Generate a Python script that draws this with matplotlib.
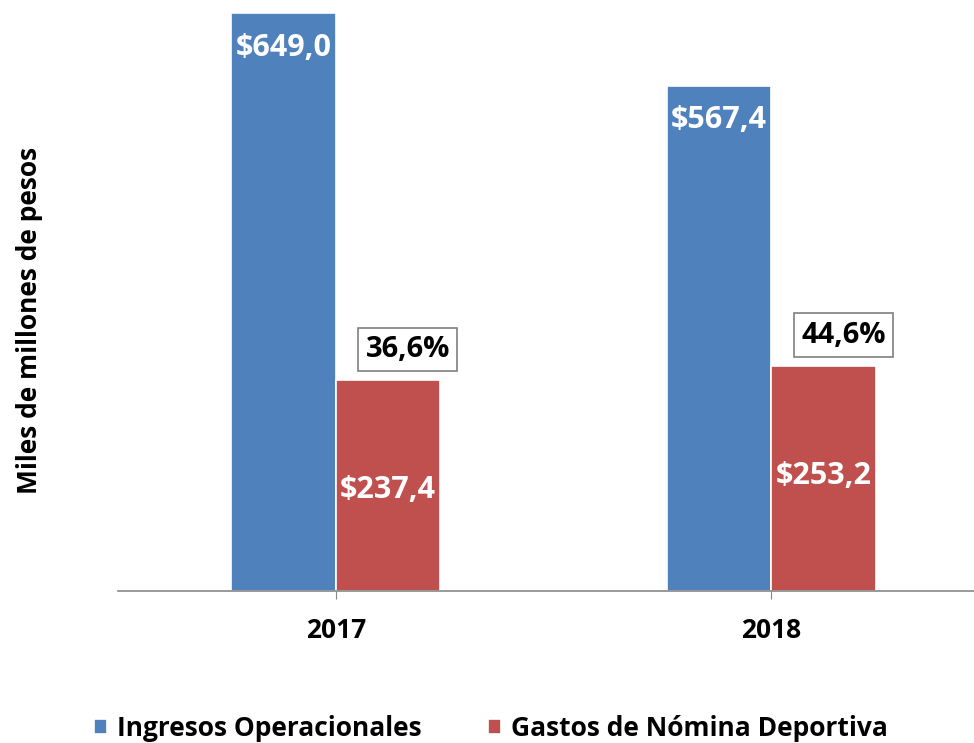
import matplotlib.pyplot as plt
import numpy as np

years = ["2017", "2018"]
ingresos = [649.0, 567.4]
gastos = [237.4, 253.2]
porcentajes = ["36,6%", "44,6%"]
series_names = ["Ingresos Operacionales", "Gastos de Nómina Deportiva"]

plt.rcParams["font.family"] = ["Open Sans", "DejaVu Sans"]
plt.rcParams["font.weight"] = "bold"

blue = "#4F81BD"
red = "#C0504D"

fig = plt.figure(figsize=(9.74, 7.43), dpi=100)
ax = fig.add_axes([118 / 974, 152 / 743, 856 / 974, 591 / 743])

x = np.arange(len(years))
w = 0.24
off = 0.12

b1 = ax.bar(x - off, ingresos, w, color=blue, edgecolor="white", linewidth=1.2,
            label=series_names[0])
b2 = ax.bar(x + off, gastos, w, color=red, edgecolor="white", linewidth=1.2,
            label=series_names[1])

for rect, v in zip(b1, ingresos):
    ax.text(rect.get_x() + rect.get_width() / 2, v - 39, "$" + f"{v:.1f}".replace(".", ","),
            ha="center", va="center", color="white", fontsize=22, fontweight="bold")
for rect, v in zip(b2, gastos):
    ax.text(rect.get_x() + rect.get_width() / 2, v - 124, "$" + f"{v:.1f}".replace(".", ","),
            ha="center", va="center", color="white", fontsize=22, fontweight="bold")

for rect, v, p in zip(b2, gastos, porcentajes):
    ax.text(rect.get_x() + rect.get_width() / 2 + 0.045, v + 34, p,
            ha="center", va="center", color="black", fontsize=21, fontweight="bold",
            bbox=dict(boxstyle="square,pad=0.25", facecolor="white", edgecolor="#7f7f7f",
                      linewidth=1.2))

ax.set_xlim(-0.5, 1.465)
ax.set_ylim(0, 663.6)
ax.set_xticks(x)
ax.set_xticklabels(years, fontsize=19, fontweight="bold")
ax.tick_params(axis="x", length=6, color="#888888", pad=13)
ax.set_yticks([])
for s in ["top", "right", "left"]:
    ax.spines[s].set_visible(False)
ax.spines["bottom"].set_color("#888888")
ax.spines["bottom"].set_linewidth(1.2)

fig.text(30 / 974, 1 - 320 / 743, "Miles de millones de pesos", rotation=90,
         ha="center", va="center", fontsize=19, fontweight="bold")

fig.legend(handles=[b1, b2], loc="center", bbox_to_anchor=(0.504, 1 - 728 / 743),
           ncol=2, frameon=False, handlelength=0.5, handleheight=0.5,
           handletextpad=0.38, columnspacing=2.5, prop={"weight": "bold", "size": 19})

fig.savefig("out.png", dpi=100)
